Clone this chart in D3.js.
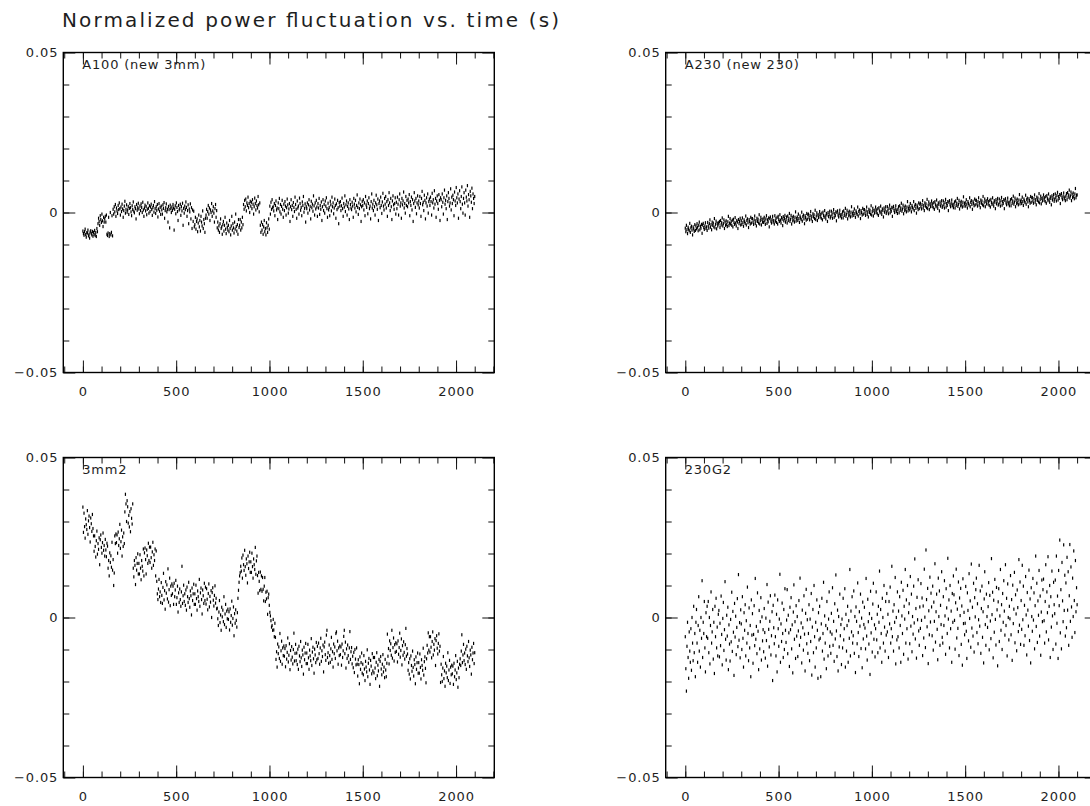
<!DOCTYPE html>
<html><head><meta charset="utf-8">
<script src="https://cdn.jsdelivr.net/npm/d3@7/dist/d3.min.js"></script>
<style>
body{margin:0;background:#fff}
svg{display:block}
text{font-family:"DejaVu Sans",sans-serif;fill:#1e1e1e}
</style>
</head><body>
<svg id="chart" width="1090" height="806"></svg>
<script>
// ---------------- data ----------------
const title = "Normalized power fluctuation vs. time (s)";
const panelNames = ["A100 (new 3mm)", "A230 (new 230)", "3mm2", "230G2"];
const timeStep = 3;          // seconds between samples, first sample at t = 0 s
const valueUnit = 1e-4;      // the series below are in units of 1e-4 (normalized power)

const a100 = [
-58,-66,-71,-60,-52,-69,-77,-63,-64,-55,-73,-68,-80,-61,-57,-66,-70,-59,-74,-62,
-68,-56,-72,-63,-75,-50,-60,-35,-18,-28,-40,-10,-22,-31,-5,-26,-44,-15,-30,-20,
-12,-30,-8,-68,-72,-64,-15,-75,-66,0,-70,-62,-10,-73,10,-5,18,2,25,-12,
14,5,-3,22,9,30,12,-8,17,3,26,11,-15,6,20,35,-2,10,24,1,
8,19,-6,13,28,15,2,-10,21,9,33,4,-1,18,12,-20,25,7,16,29,
11,-4,20,6,27,16,0,32,8,-12,14,23,5,19,-7,10,30,13,-2,21,
3,17,26,9,-9,15,22,1,34,12,-3,18,7,25,-14,11,28,4,16,-6,
20,8,-5,24,13,31,-18,6,15,27,2,10,-30,19,9,-48,23,12,0,17,
7,25,14,-55,10,21,-4,30,16,3,-25,22,8,12,26,-9,18,5,29,-40,
13,-2,20,9,33,16,-12,6,24,-35,11,2,27,-20,15,-50,8,-28,4,-45,
-38,-15,-52,-28,-20,-60,-33,-8,-45,-25,-58,-12,-30,-42,5,-50,-22,-35,-62,-18,
-8,10,-18,3,22,-5,14,-25,8,0,28,-12,5,18,-2,-30,12,25,-15,6,
-48,-30,-55,-42,-62,-35,-20,-50,-45,-68,-38,-28,-58,-40,-15,-52,-66,-33,-46,-55,
-40,-60,-25,-50,-70,-42,-12,-55,-35,-48,-64,-30,-52,-5,-44,-58,-38,-68,-22,-47,
-40,-22,-55,-30,-48,-15,-38,25,10,38,18,42,5,30,22,48,15,28,0,35,
20,32,12,40,26,-5,18,45,28,8,36,22,14,50,24,2,30,-40,-62,-30,
-55,-38,-68,-45,-25,-60,-50,-70,-32,-48,-62,-40,-20,-52,20,-5,32,10,40,15,
18,5,28,-10,22,36,8,14,-22,30,12,44,2,25,-5,19,38,10,-15,26,
6,34,20,-8,15,42,24,-2,11,28,-28,18,40,9,22,-12,31,16,3,48,
25,10,-18,36,14,20,-5,45,28,7,16,-10,33,22,50,1,13,27,-30,18,
12,30,-2,24,40,8,19,-20,35,15,26,4,52,21,-8,30,11,38,17,-12,
28,14,44,-6,22,10,33,-25,18,40,6,25,-2,36,20,46,12,-15,29,8,
16,-10,35,24,5,48,18,30,-4,14,42,22,-18,27,9,38,15,-35,31,20,
34,6,21,45,12,-12,28,17,52,3,24,36,-8,19,30,11,-22,40,25,14,
9,32,20,-15,44,26,14,38,2,22,55,16,-6,30,12,42,24,-28,18,35,
22,40,8,30,-10,50,24,16,36,-4,28,46,12,20,-20,34,58,14,26,6,
38,18,-8,30,54,24,10,42,-25,28,36,15,48,22,-3,33,60,20,8,44,
26,50,14,34,-12,40,22,62,30,6,44,18,-22,36,52,24,10,28,46,-5,
32,12,48,26,-8,40,58,20,30,-18,44,24,36,64,14,28,-2,50,22,38,
18,42,30,56,-10,34,22,48,8,40,-28,28,62,36,16,44,-4,30,52,24,
36,14,50,28,-12,44,66,24,32,6,54,38,-20,30,46,20,58,-2,34,42,
22,48,34,-8,60,30,40,14,68,26,44,-15,36,52,28,10,56,38,-25,46,
40,18,58,32,-5,46,70,26,38,12,52,-22,34,62,44,20,30,74,8,48,
28,54,40,-10,64,36,22,78,46,30,58,-18,42,68,34,12,50,80,26,-2,
44,62,30,-8,70,48,36,84,20,56,40,-15,66,52,32,76,12,58,44,28,
50];

const a230 = [
-49,-60,-40,-54,-66,-46,-52,-57,-34,-62,-48,-43,-55,-70,-45,-51,-59,-38,-56,-42,
-51,-35,-46,-57,-40,-30,-54,-43,-49,-37,-65,-39,-34,-47,-53,-42,-32,-50,-45,-56,
-31,-42,-49,-35,-23,-46,-38,-54,-30,-40,-33,-45,-19,-48,-37,-27,-51,-34,-42,-32,
-36,-28,-47,-25,-39,-32,-17,-42,-35,-23,-50,-30,-40,-26,-37,-44,-29,-12,-41,-33,
-19,-36,-28,-40,-24,-45,-21,-31,-37,-16,-33,-42,-25,-30,-50,-22,-35,-28,-18,-39,
-26,-37,-17,-31,-43,-23,-29,-34,-11,-39,-25,-20,-32,-47,-22,-28,-36,-15,-33,-19,
-19,-30,-37,-23,-11,-34,-26,-42,-18,-28,-21,-33,-7,-36,-25,-15,-39,-22,-30,-20,
-31,-15,-26,-37,-20,-10,-34,-23,-29,-17,-45,-19,-14,-27,-33,-22,-12,-30,-25,-36,
-10,-27,-19,-31,-15,-36,-12,-22,-28,-7,-24,-33,-16,-21,-41,-13,-26,-19,-9,-30,
-22,-14,-33,-11,-25,-18,-3,-28,-21,-9,-36,-16,-26,-12,-23,-30,-15,2,-27,-19,
-14,-25,-5,-19,-31,-11,-17,-22,1,-27,-13,-8,-20,-35,-10,-16,-24,-3,-21,-7,
-5,-16,-23,-9,3,-20,-12,-28,-4,-14,-7,-19,7,-22,-11,-1,-25,-8,-16,-6,
3,-14,-6,-18,-2,-23,1,-9,-15,6,-11,-20,-3,-8,-28,0,-13,-6,4,-17,
-12,4,-7,-18,-1,9,-15,-4,-10,2,-26,0,5,-8,-14,-3,7,-11,-6,-17,
-6,2,-17,5,-9,-2,13,-12,-5,7,-20,0,-10,4,-7,-14,1,18,-11,-3,
2,-9,11,-3,-15,5,-1,-6,17,-11,3,8,-4,-19,6,0,-8,13,-5,9,
9,-2,-9,5,17,-6,2,-14,10,0,7,-5,21,-8,3,13,-11,6,-2,8,
17,0,8,-4,12,-9,15,5,-1,20,3,-6,11,6,-14,14,1,8,18,-3,
2,18,7,-4,13,23,-1,10,4,16,-12,14,19,6,0,11,21,3,8,-3,
10,18,-1,21,7,14,29,4,11,23,-4,16,6,20,9,2,17,34,5,13,
19,8,28,14,2,22,16,11,34,6,20,25,13,-2,23,17,9,30,12,26,
29,18,11,25,37,14,22,6,30,20,27,15,41,12,23,33,9,26,18,28,
36,19,27,15,31,10,34,24,18,39,22,13,30,25,5,33,20,27,37,16,
20,36,25,14,31,41,17,28,22,34,6,32,37,24,18,29,39,21,26,15,
25,33,14,36,22,29,44,19,26,38,11,31,21,35,24,17,32,49,20,28,
31,20,40,26,14,34,28,23,46,18,32,37,25,10,35,29,21,42,24,38,
38,27,20,34,46,23,31,15,39,29,36,24,50,21,32,42,18,35,27,37,
43,26,34,22,38,17,41,31,25,46,29,20,37,32,12,40,27,34,44,23,
26,42,31,20,37,47,23,34,28,40,12,38,43,30,24,35,45,27,32,21,
32,40,21,43,29,36,51,26,33,45,18,38,28,42,31,24,39,56,27,35,
39,28,48,34,22,42,36,31,54,26,40,45,33,18,43,37,29,50,32,46,
47,36,29,43,55,32,40,24,48,38,45,33,59,30,41,51,27,44,36,46,
55,38,46,34,50,29,53,43,37,58,41,32,49,44,24,52,39,46,56,35,
42,58,47,36,53,63,39,50,44,56,28,54,59,46,40,51,61,43,48,37,
51,59,40,62,48,55,70,45,52,64,37,57,47,61,50,43,58,75,46,54,
55];

const mm3g2 = [
345,266,326,284,248,308,290,275,334,260,302,317,281,236,311,293,269,322,278,255,
207,255,222,189,240,270,198,231,213,249,165,243,258,219,201,234,264,210,225,192,
244,211,190,232,223,154,178,130,202,172,193,157,235,148,181,100,139,255,231,261,
234,258,201,267,225,246,291,216,237,273,192,252,222,264,231,330,385,355,300,365,
346,295,319,283,331,268,340,310,292,355,154,127,178,163,103,187,148,169,199,136,
169,136,196,154,118,178,160,145,214,130,202,217,181,136,211,193,169,232,178,220,
172,220,187,154,205,235,163,196,178,214,130,208,113,74,56,89,119,65,80,47,
109,69,44,94,138,55,84,26,112,76,102,58,152,48,87,123,37,98,69,105,
74,98,41,107,65,86,116,41,62,98,17,77,47,89,56,35,80,160,44,68,
101,50,74,38,86,23,95,65,47,110,59,32,83,68,8,92,53,74,104,41,
74,41,101,59,23,83,65,50,119,35,77,92,56,11,86,68,44,107,53,95,
42,90,57,24,75,105,33,66,48,84,0,78,93,54,36,69,99,45,60,27,
29,-4,-25,17,53,-16,8,-40,32,2,23,-13,65,-22,11,41,-31,20,-4,26,
-6,18,-39,27,-15,6,51,-24,-3,33,-57,12,-18,24,-9,-30,15,60,85,110,
130,140,160,145,186,123,195,165,147,210,159,132,183,168,108,192,153,174,204,141,
174,141,201,159,123,183,165,150,219,135,177,192,131,76,141,113,84,142,88,130,
82,125,88,52,98,125,50,79,58,82,10,62,73,38,16,5,-10,-30,-25,-40,
-6,-39,-60,-18,-62,-131,-107,-155,-83,-113,-92,-128,-50,-137,-104,-74,-146,-95,-119,-89,
-121,-97,-154,-88,-130,-109,-64,-139,-118,-82,-163,-103,-133,-91,-124,-145,-100,-49,-136,-112,
-84,-135,-111,-147,-99,-162,-90,-120,-138,-75,-126,-153,-102,-117,-177,-93,-132,-111,-81,-144,
-111,-144,-84,-126,-162,-102,-120,-135,-66,-150,-108,-93,-129,-174,-99,-117,-141,-78,-132,-90,
-128,-80,-113,-146,-95,-65,-137,-104,-122,-86,-170,-92,-77,-116,-134,-55,-40,-125,-110,-143,
-86,-119,-140,-98,-62,-131,-107,-155,-83,-113,-92,-128,-50,-45,-104,-74,-146,-95,-119,-89,
-116,-92,-149,-83,-125,-104,-59,-40,-113,-77,-158,-98,-128,-86,-119,-140,-95,-44,-131,-107,
-94,-145,-121,-157,-109,-172,-100,-130,-148,-95,-146,-183,-132,-147,-207,-123,-162,-141,-111,-174,
-146,-179,-119,-161,-197,-137,-155,-170,-101,-185,-143,-128,-164,-209,-134,-152,-176,-113,-167,-125,
-173,-125,-158,-191,-140,-110,-182,-149,-167,-131,-215,-137,-122,-161,-179,-146,-116,-170,-155,-188,
-131,-164,-185,-143,-52,-121,-97,-145,-73,-103,-82,-118,-40,-127,-94,-64,-136,-85,-109,-79,
-106,-82,-139,-73,-115,-94,-49,-124,-103,-67,-148,-88,-118,-76,-109,-130,-85,-34,-121,-97,
-114,-165,-141,-177,-129,-192,-120,-150,-168,-105,-156,-183,-132,-147,-207,-123,-162,-141,-111,-174,
-141,-174,-114,-156,-192,-132,-150,-165,-96,-180,-138,-123,-159,-204,-129,-87,-111,-48,-102,-60,
-108,-60,-93,-126,-75,-45,-117,-84,-102,-66,-150,-72,-57,-96,-114,-81,-51,-105,-90,-203,
-146,-179,-200,-158,-122,-191,-167,-215,-143,-173,-152,-188,-110,-197,-164,-134,-206,-155,-179,-149,
-176,-152,-209,-143,-185,-164,-119,-194,-173,-137,-218,-158,-188,-146,-129,-150,-105,-54,-141,-117,
-84,-135,-111,-147,-99,-162,-90,-120,-138,-75,-126,-153,-102,-117,-177,-93,-132,-111,-81,-144,
-110];

const g230 = [
-60,-160,-230,-90,-15,-125,-190,-45,-105,-140,-35,-165,0,-80,-135,35,-110,-50,-185,-15,
25,-80,-140,-25,65,-105,-40,-155,0,-65,115,-125,-15,-50,50,-95,-170,15,-60,35,
-65,50,-110,0,-145,-25,80,-80,-45,25,-130,-15,-175,35,-60,60,-95,-30,-120,10,
22,-123,-18,-88,67,-53,-148,-3,47,-103,-38,112,-68,-133,7,-58,32,-163,-23,-83,
-136,-6,-76,79,-106,19,-46,-181,44,-61,4,-116,-31,59,-91,134,-71,-16,-126,24,
-20,-100,65,-65,-155,15,-40,40,-120,-10,-80,95,-50,-135,30,-95,-25,-185,55,-55,
12,-143,-53,37,-88,122,-68,-28,-113,77,-43,-163,22,-98,-13,62,-133,2,-73,-38,
-107,28,-47,-127,-2,-72,103,-152,48,-37,-92,-12,68,-117,-57,18,-197,38,-32,-82,
70,-60,-120,10,-170,55,-35,-90,-5,135,-140,-20,-75,45,-50,-125,25,-100,90,-40,
-78,-8,87,-113,7,-48,-153,32,-38,62,-98,-23,-173,17,102,-68,-13,-128,37,-58,
3,-122,-42,53,-87,123,-62,-17,-142,23,-32,-102,68,-52,-167,13,88,-82,-7,-112,
-50,40,-135,-5,-75,75,-180,-30,25,-110,100,-60,-155,-15,-95,55,-40,-190,15,-70,
35,-65,-185,-20,60,-105,-50,110,-130,5,-80,-25,-160,50,-35,-120,-5,80,-90,-45,
-112,13,-52,93,-87,-12,-137,43,-67,133,-42,-122,23,-167,3,-92,73,-57,-22,-147,
-5,-95,60,-70,-35,90,-155,10,-105,-25,35,-140,-10,-65,150,-120,20,-45,65,-80,
-57,83,-112,3,-172,33,-12,-82,108,-47,-122,18,-27,73,-97,-2,-157,48,-67,-22,
32,-33,-98,122,-58,-133,57,-13,-83,12,-178,82,-48,-3,-108,42,107,-68,-23,-123,
-35,80,-70,10,-110,35,-15,145,-95,25,-50,-140,60,0,-80,100,-30,-105,50,-55,
75,-45,10,-125,50,-20,95,-80,-35,160,-60,20,-105,40,-15,125,-145,0,-70,80,
-60,20,-95,65,-25,-140,110,5,-50,85,-115,35,-5,150,-80,55,-35,100,-130,15,
43,-82,128,-27,73,-107,3,-52,98,-17,183,-67,28,-127,63,-7,118,-42,-87,33,
-34,106,-9,61,-119,36,-64,151,1,-94,211,56,-29,91,-144,21,-54,126,-14,76,
33,-57,98,-102,48,-12,168,-77,18,73,-37,-132,123,3,83,-87,38,-22,143,-62,
-80,65,-25,115,5,-115,90,30,-50,185,-5,55,-95,100,-35,20,-140,75,-15,130,
71,-9,-99,46,151,-64,26,-34,111,-119,61,6,91,-84,36,-149,121,-19,16,-54,
-18,97,-43,-128,77,22,-73,137,-3,52,-93,167,-33,32,-58,107,-108,62,2,87,
123,-47,43,-82,-7,163,-27,83,-112,28,98,-62,18,-142,58,143,-22,-87,73,3,
-31,34,109,-101,69,-11,-66,184,9,79,-126,54,-46,119,-6,-86,94,24,-151,49,
90,-75,5,150,-40,40,-100,75,-15,115,20,-55,165,-25,60,-120,105,0,-70,35,
-4,131,-54,56,-134,101,-19,26,141,-79,71,11,-104,86,31,-44,181,-24,111,-84,
53,-37,163,-7,98,-87,38,-57,128,8,-117,78,23,-27,148,-72,58,-142,93,3,
-43,122,-8,77,-98,37,192,-28,107,-78,52,7,147,-58,67,-118,17,117,-13,87,
120,-10,-80,50,165,-45,80,15,190,-70,35,100,-125,65,-30,145,5,-100,110,40,
12,117,-83,192,-18,67,-128,147,37,242,-48,87,-98,172,52,-13,227,22,132,-58,
108,-32,188,23,143,-87,68,228,-12,158,33,-62,123,3,208,53,-47,178,18,93,
40];

const seriesList = [a100, a230, mm3g2, g230];
const xDomain = [-105, 2205];
const yDomain = [-0.05, 0.05];
const xMajorTicks = [0, 500, 1000, 1500, 2000];
const xTickLabels = ["0", "500", "1000", "1500", "2000"];
const yMajorTicks = [-0.05, 0, 0.05];
const yTickLabels = ["\u22120.05", "0", "0.05"];

// ---------------- layout ----------------
const svg = d3.select("#chart");
const W = 431, H = 320;
const origins = [[63.3, 52.5], [665.7, 52.5], [63.3, 457.5], [665.7, 457.5]];
const x = d3.scaleLinear().domain(xDomain).range([0, W]);
const y = d3.scaleLinear().domain(yDomain).range([H, 0]);
const xMinor = d3.range(-100, 2201, 100);
const yMinor = d3.range(-4, 5).map(v => v / 100);

svg.append("text").attr("x", 62).attr("y", 27)
  .attr("font-size", 20).attr("textLength", 497).attr("lengthAdjust", "spacing")
  .text(title);

seriesList.forEach((vals, p) => {
  const g = svg.append("g").attr("transform", `translate(${origins[p][0]},${origins[p][1]})`);

  g.append("g").selectAll("rect").data(vals).join("rect")
    .attr("x", (d, i) => x(i * timeStep) - 0.6)
    .attr("y", d => y(d * valueUnit) - 1.6)
    .attr("width", 1.2).attr("height", 3.2).attr("fill", "#000");

  const style = sel => {
    sel.select(".domain").remove();
    sel.selectAll(".tick line").attr("stroke", "#111").attr("stroke-width", 1);
    sel.selectAll(".tick text").attr("font-family", "DejaVu Sans, sans-serif")
      .attr("font-size", 13).attr("letter-spacing", 0.9).attr("fill", "#1e1e1e");
  };
  // bottom
  g.append("g").attr("transform", `translate(0,${H})`)
    .call(d3.axisBottom(x).tickValues(xMinor).tickSize(-6).tickFormat(""))
    .call(style);
  g.append("g").attr("transform", `translate(0,${H})`)
    .call(d3.axisBottom(x).tickValues(xMajorTicks).tickSize(-12).tickPadding(14)
      .tickFormat((d, i) => xTickLabels[i]))
    .call(style);
  // top
  g.append("g").call(d3.axisTop(x).tickValues(xMinor).tickSize(-6).tickFormat("")).call(style);
  g.append("g").call(d3.axisTop(x).tickValues(xMajorTicks).tickSize(-12).tickFormat("")).call(style);
  // left
  g.append("g").call(d3.axisLeft(y).tickValues(yMinor).tickSize(-6).tickFormat("")).call(style);
  g.append("g").call(d3.axisLeft(y).tickValues(yMajorTicks).tickSize(-12).tickPadding(5)
      .tickFormat((d, i) => yTickLabels[i])).call(style);
  // right
  g.append("g").attr("transform", `translate(${W},0)`)
    .call(d3.axisRight(y).tickValues(yMinor).tickSize(-6).tickFormat("")).call(style);
  g.append("g").attr("transform", `translate(${W},0)`)
    .call(d3.axisRight(y).tickValues(yMajorTicks).tickSize(-12).tickFormat("")).call(style);

  g.append("rect").attr("width", W).attr("height", H)
    .attr("fill", "none").attr("stroke", "#000").attr("stroke-width", 1.4);

  g.append("text").attr("x", 19).attr("y", 16).attr("font-size", 13)
    .attr("letter-spacing", 0.8).text(panelNames[p]);
});
</script>
</body></html>
